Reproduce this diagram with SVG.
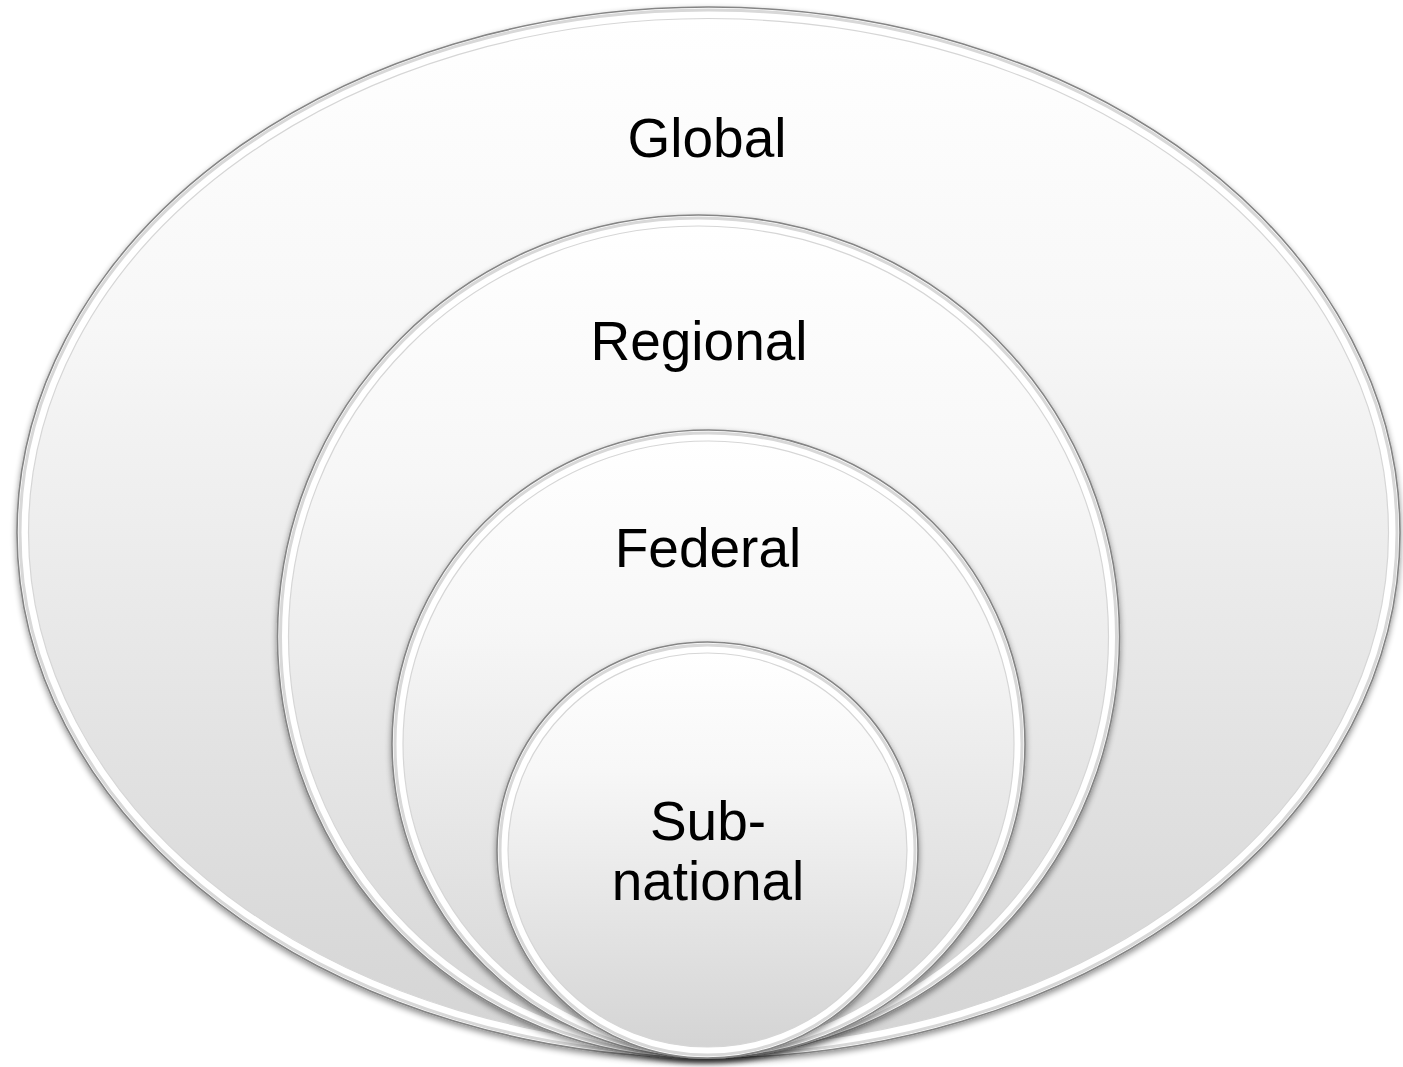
<svg xmlns="http://www.w3.org/2000/svg" width="1403" height="1067" viewBox="0 0 1403 1067">
<style>
.rim{fill:#ffffff;stroke:#858585;stroke-width:1.6}
.band{fill:none;stroke:#d8d8d8;stroke-width:3}
.face{fill:url(#g);stroke:#d6d6d6;stroke-width:1.2}
.lbl{font-family:"Liberation Sans",Arial,sans-serif;font-size:55px;fill:#000;text-anchor:middle}
</style>
<defs>
<linearGradient id="g" x1="0" y1="0" x2="0" y2="1">
<stop offset="0" stop-color="#ffffff"/>
<stop offset="0.3" stop-color="#f7f7f7"/>
<stop offset="1" stop-color="#d4d4d4"/>
</linearGradient>
<filter id="sh" x="-5%" y="-5%" width="110%" height="112%">
<feGaussianBlur in="SourceAlpha" stdDeviation="3"/>
<feOffset dx="0" dy="3" result="b"/>
<feComponentTransfer><feFuncA type="linear" slope="0.45"/></feComponentTransfer>
<feMerge><feMergeNode/><feMergeNode in="SourceGraphic"/></feMerge>
</filter>
</defs>
<rect width="1403" height="1067" fill="#ffffff"/>
<g id="global" filter="url(#sh)">
<ellipse class="rim" cx="708.5" cy="532.5" rx="691.5" ry="525.5"/>
<ellipse class="band" cx="708.5" cy="532.5" rx="688.5" ry="522.5"/>
<ellipse class="face" cx="708.5" cy="532.5" rx="680" ry="514"/>
<text class="lbl" x="707" y="157">Global</text>
</g>
<g id="regional" filter="url(#sh)">
<ellipse class="rim" cx="698.5" cy="636.5" rx="421" ry="421.5"/>
<ellipse class="band" cx="698.5" cy="636.5" rx="418" ry="418.5"/>
<ellipse class="face" cx="698.5" cy="636.5" rx="410" ry="410.5"/>
<text class="lbl" x="699" y="360">Regional</text>
</g>
<g id="federal" filter="url(#sh)">
<ellipse class="rim" cx="708.5" cy="744" rx="316.5" ry="314"/>
<ellipse class="band" cx="708.5" cy="744" rx="313.5" ry="311"/>
<ellipse class="face" cx="708.5" cy="744" rx="305.5" ry="303"/>
<text class="lbl" x="708" y="567">Federal</text>
</g>
<g id="subnational" filter="url(#sh)">
<ellipse class="rim" cx="707.5" cy="850" rx="210.5" ry="208"/>
<ellipse class="band" cx="707.5" cy="850" rx="207.5" ry="205"/>
<ellipse class="face" cx="707.5" cy="850" rx="199.5" ry="197"/>
<text class="lbl" x="708" y="840">Sub-</text>
<text class="lbl" x="708" y="900">national</text>
</g>
<g id="connectors"/>
</svg>
